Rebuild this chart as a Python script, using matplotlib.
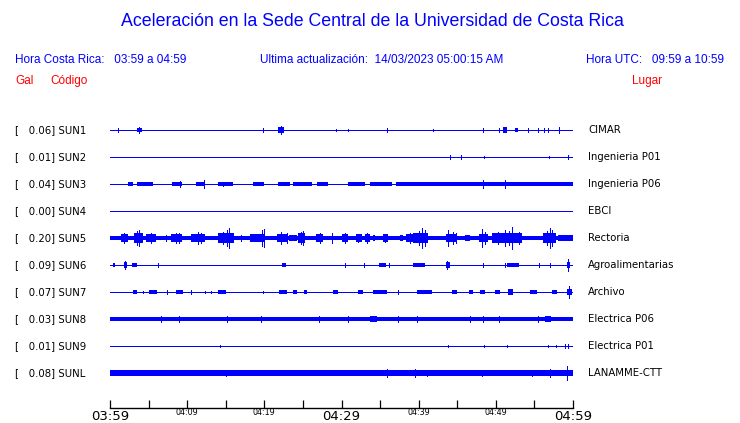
import matplotlib
matplotlib.use("Agg")
import matplotlib.pyplot as plt

W, H = 740, 423
DPI = 100

# ---------------- data ----------------
codes = ["SUN1", "SUN2", "SUN3", "SUN4", "SUN5", "SUN6", "SUN7", "SUN8", "SUN9", "SUNL"]
gal = [0.06, 0.01, 0.04, 0.00, 0.20, 0.09, 0.07, 0.03, 0.01, 0.08]
places = ["CIMAR", "Ingenieria P01", "Ingenieria P06", "EBCI", "Rectoria",
          "Agroalimentarias", "Archivo", "Electrica P06", "Electrica P01", "LANAMME-CTT"]

# baseline half-thickness of each trace (trace-spacing units); 0 -> hairline
base_amp = [0.0, 0.0, 0.0, 0.0, 0.085, 0.0, 0.0, 0.085, 0.0, 0.095]

# burst segments per station: (start min, end min, half amplitude in trace units)
seg_sun1 = [(3.5, 4.1, 0.08), (21.8, 22.6, 0.10), (50.9, 51.5, 0.10), (52.5, 52.9, 0.09)]
seg_sun2 = []
seg_sun3 = [(2.3, 3.0, 0.07), (3.5, 5.6, 0.07), (8.0, 9.3, 0.075), (11.1, 12.2, 0.07),
            (14.0, 15.9, 0.07), (18.5, 20.0, 0.075), (21.8, 23.3, 0.075), (23.7, 26.2, 0.07),
            (26.8, 28.2, 0.07), (30.8, 33.0, 0.075), (33.7, 36.5, 0.07), (37.0, 40.5, 0.075),
            (40.5, 60.0, 0.075)]
seg_sun4 = []
seg_sun5 = [(1.4, 2.3, 0.15), (3.1, 4.3, 0.20), (4.7, 6.0, 0.15), (7.9, 9.3, 0.15),
            (10.5, 12.3, 0.16), (14.0, 16.1, 0.18), (18.1, 20.0, 0.16), (21.6, 22.9, 0.16),
            (23.2, 24.2, 0.11), (24.4, 25.3, 0.18), (26.7, 27.6, 0.13), (30.1, 30.8, 0.15),
            (31.9, 32.7, 0.13), (33.0, 33.7, 0.13), (34.1, 34.3, 0.12), (35.4, 36.0, 0.13),
            (37.6, 38.0, 0.11), (38.4, 39.3, 0.13), (39.3, 41.2, 0.18), (43.5, 45.0, 0.16),
            (46.0, 46.7, 0.11), (47.8, 49.0, 0.16), (49.5, 53.4, 0.17), (56.1, 57.8, 0.18),
            (58.1, 60.0, 0.11)]
seg_sun6 = [(0.4, 0.7, 0.08), (1.8, 2.2, 0.10), (2.8, 3.5, 0.075), (22.3, 22.8, 0.09),
            (34.8, 35.8, 0.075), (39.3, 40.8, 0.09), (43.5, 44.0, 0.12), (51.5, 53.0, 0.075),
            (59.2, 59.6, 0.10)]
seg_sun7 = [(3.0, 3.5, 0.075), (5.1, 6.1, 0.09), (8.6, 9.5, 0.075), (14.0, 15.0, 0.09),
            (21.9, 23.0, 0.075), (23.7, 24.2, 0.09), (25.1, 25.5, 0.075), (28.9, 29.5, 0.075),
            (32.1, 32.8, 0.075), (34.1, 35.9, 0.075), (39.8, 41.7, 0.075), (44.3, 45.0, 0.075),
            (46.5, 47.0, 0.075), (48.0, 48.6, 0.075), (49.9, 50.5, 0.075), (51.6, 52.2, 0.10),
            (54.4, 55.3, 0.075), (57.3, 57.9, 0.075), (59.2, 59.9, 0.10)]
seg_sun8 = [(33.7, 34.6, 0.10), (56.4, 57.2, 0.10)]
seg_sun9 = []
seg_sunl = []
segments = [seg_sun1, seg_sun2, seg_sun3, seg_sun4, seg_sun5,
            seg_sun6, seg_sun7, seg_sun8, seg_sun9, seg_sunl]

# isolated spikes per station: (time min, half amplitude in trace units)
spk_sun1 = [(1.04, 0.07), (19.8, 0.06), (29.3, 0.04), (30.8, 0.04), (35.9, 0.07),
            (41.9, 0.04), (48.3, 0.06), (50.4, 0.07), (54.2, 0.07), (55.5, 0.07),
            (56.2, 0.07), (56.8, 0.07), (58.2, 0.11), (3.8, 0.10), (22.2, 0.14)]
spk_sun2 = [(44.1, 0.07), (45.5, 0.07), (48.5, 0.04), (56.9, 0.04), (59.4, 0.07)]
spk_sun3 = [(9.1, 0.11), (12.2, 0.15), (14.7, 0.09), (48.3, 0.15), (51.2, 0.15)]
spk_sun4 = []
spk_sun5 = [(1.8, 0.20), (3.5, 0.26), (3.8, 0.30), (5.3, 0.20), (8.5, 0.20), (11.4, 0.22),
            (15.4, 0.38), (14.6, 0.24), (15.1, 0.28), (19.7, 0.30), (19.9, 0.34), (22.2, 0.22),
            (25.0, 0.26), (24.7, 0.22), (28.8, 0.20), (30.4, 0.20), (40.4, 0.38), (40.0, 0.26),
            (40.8, 0.28), (43.8, 0.31), (44.5, 0.22), (48.2, 0.34), (51.2, 0.30), (52.1, 0.42),
            (50.3, 0.24), (53.0, 0.24), (51.7, 0.26), (57.0, 0.38), (56.6, 0.26), (57.3, 0.28),
            (7.3, 0.11), (17.0, 0.11), (27.2, 0.17), (33.3, 0.17), (35.7, 0.16), (38.9, 0.17),
            (9.0, 0.18), (11.8, 0.19), (23.0, 0.20), (32.2, 0.16), (44.9, 0.20), (48.6, 0.22)]
spk_sun6 = [(2.0, 0.15), (6.2, 0.06), (30.5, 0.07), (32.9, 0.09), (36.2, 0.07),
            (43.7, 0.14), (48.3, 0.07), (51.2, 0.07), (55.6, 0.06), (57.0, 0.07),
            (59.3, 0.22)]
spk_sun7 = [(4.3, 0.04), (7.4, 0.06), (10.5, 0.07), (12.3, 0.04), (13.1, 0.04),
            (19.8, 0.04), (37.3, 0.06), (59.5, 0.22)]
spk_sun8 = [(15.2, 0.12), (39.8, 0.12), (48.3, 0.12), (50.4, 0.12), (55.5, 0.12),
            (6.6, 0.10), (9.0, 0.10), (19.6, 0.10), (27.1, 0.10), (30.8, 0.10),
            (37.3, 0.10), (46.6, 0.10)]
spk_sun9 = [(14.3, 0.05), (43.8, 0.05), (48.5, 0.05), (51.4, 0.05), (56.7, 0.05),
            (57.8, 0.05), (59.0, 0.07), (59.4, 0.07)]
spk_sunl = [(35.9, 0.13), (39.5, 0.13), (41.1, 0.12), (48.2, 0.12), (54.7, 0.12),
            (57.0, 0.13), (59.2, 0.27), (15.0, 0.11)]
spikes = [spk_sun1, spk_sun2, spk_sun3, spk_sun4, spk_sun5,
          spk_sun6, spk_sun7, spk_sun8, spk_sun9, spk_sunl]

tick_minutes = list(range(0, 61, 5))
tick_labels = ["03:59", "", "04:09", "", "04:19", "", "04:29", "", "04:39", "", "04:49", "", "04:59"]
big_labels = {"03:59", "04:29", "04:59"}

title = "Aceleración en la Sede Central de la Universidad de Costa Rica"
hdr_left = "Hora Costa Rica:   03:59 a 04:59"
hdr_mid = "Ultima actualización:  14/03/2023 05:00:15 AM"
hdr_right = "Hora UTC:   09:59 a 10:59"

# ---------------- figure ----------------
BLUE = "#0000ff"
RED = "#ff0000"
fig = plt.figure(figsize=(W / DPI, H / DPI), dpi=DPI)
fig.patch.set_facecolor("white")


def px(x, y):
    return x / W, 1 - y / H


y0, dy = 130, 27
top_px, bot_px = 117, 408
ax = fig.add_axes([110 / W, (H - bot_px) / H, (573 - 110) / W, (bot_px - top_px) / H])
ax.set_xlim(0, 60)
ax.set_ylim((bot_px - y0) / dy, (top_px - y0) / dy)
for s in ["top", "left", "right"]:
    ax.spines[s].set_visible(False)
ax.spines["bottom"].set_linewidth(1.0)
ax.set_yticks([])
ax.set_xticks(tick_minutes)
ax.set_xticklabels(tick_labels)
ax.tick_params(axis="x", direction="in", length=5.5, width=0.9, pad=1.5)
for lab in ax.get_xticklabels():
    if lab.get_text() in big_labels:
        lab.set_fontsize(9.5)
    else:
        lab.set_fontsize(5.8)
        lab.set_y(0.006)

LW = 0.72  # one pixel
for i in range(len(codes)):
    ba = base_amp[i]
    ax.hlines(i, 0, 60, color=BLUE, lw=LW, antialiased=False)
    if ba > 0:
        ax.fill_between([0, 60], [i - ba, i - ba], [i + ba, i + ba], color=BLUE,
                        lw=0, antialiased=False)
    for (t0, t1, a) in segments[i]:
        ax.fill_between([t0, t1], [i - a, i - a], [i + a, i + a], color=BLUE,
                        lw=0, antialiased=False)
    for (t, a) in spikes[i]:
        ax.vlines(t, i - a, i + a, color=BLUE, lw=LW, antialiased=False)
    fig.text(*px(15, y0 + dy * i), f"[   {gal[i]:.2f}] {codes[i]}", fontsize=7.3,
             family="DejaVu Sans", va="center", ha="left")
    fig.text(*px(588, y0 + dy * i), places[i], fontsize=7.3,
             family="DejaVu Sans", va="center", ha="left")

hfont = "Liberation Sans"
fig.text(*px(372, 22), title, fontsize=12.8, color=BLUE, family=hfont, ha="center", va="center")
fig.text(*px(15, 60), hdr_left, fontsize=8.5, color=BLUE, family=hfont, ha="left", va="center")
fig.text(*px(260, 60), hdr_mid, fontsize=8.5, color=BLUE, family=hfont, ha="left", va="center")
fig.text(*px(724, 60), hdr_right, fontsize=8.5, color=BLUE, family=hfont, ha="right", va="center")
fig.text(*px(15, 81), "Gal", fontsize=8.5, color=RED, family=hfont, ha="left", va="center")
fig.text(*px(50, 81), "Código", fontsize=8.5, color=RED, family=hfont, ha="left", va="center")
fig.text(*px(662, 81), "Lugar", fontsize=8.5, color=RED, family=hfont, ha="right", va="center")

fig.savefig("out.png", dpi=DPI, facecolor="white")
